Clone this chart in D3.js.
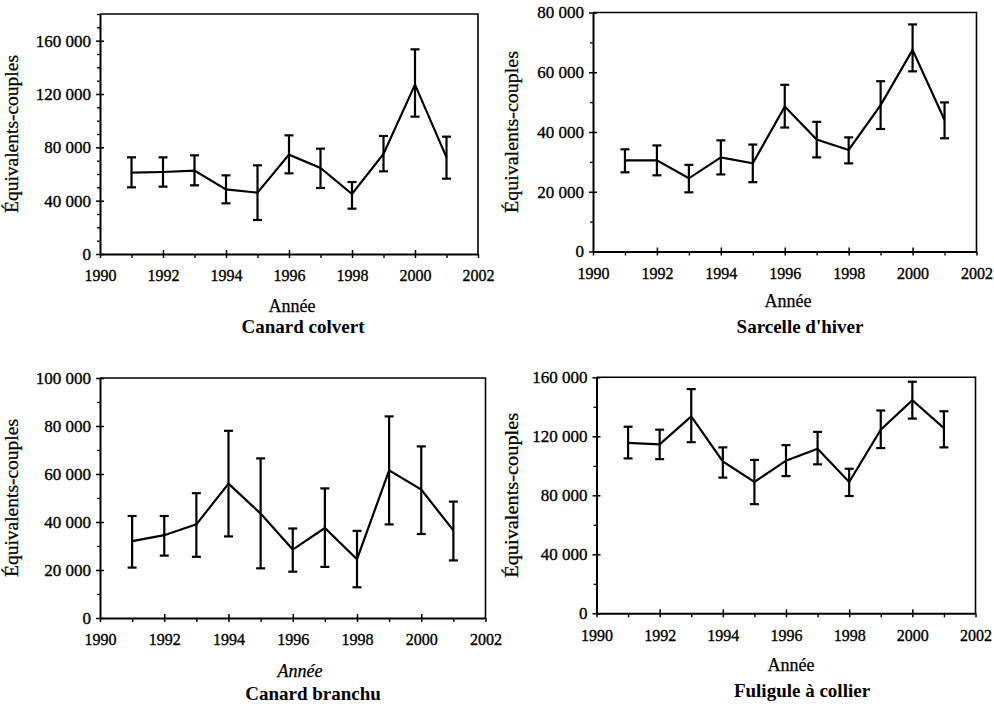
<!DOCTYPE html>
<html><head><meta charset="utf-8">
<script src="https://cdn.jsdelivr.net/npm/d3@7"></script>
<style>
body{margin:0;background:#fff}
svg{display:block}
text{font-family:"Liberation Serif","Tinos","Times New Roman","DejaVu Serif",serif;fill:#000}
</style>
</head><body>
<svg id="c" width="994" height="704"></svg>
<script>
// ---- data ----
const years = [1991,1992,1993,1994,1995,1996,1997,1998,1999,2000,2001];
const xTickLabels = [1990,1992,1994,1996,1998,2000,2002];
const titles = ["Canard colvert","Sarcelle d'hiver","Canard branchu","Fuligule à collier"];
const xTitle = "Année";
const yTitle = "Équivalents-couples";

const colvertMean = [61000,61500,62500,48500,46000,74500,64500,45000,75000,127000,72500];
const colvertLow  = [50000,50500,51500,38000,25500,60500,49500,34000,62000,103000,56500];
const colvertHigh = [72500,72500,74000,59000,66500,89000,79000,54000,88500,153500,88000];

const sarcelleMean = [30500,30500,24500,31500,29500,48500,37500,34000,49000,67500,44000];
const sarcelleLow  = [26500,25500,19800,25800,23200,41500,31500,29500,41000,60300,37900];
const sarcelleHigh = [34200,35500,29000,37200,35800,55800,43400,38200,57000,76000,49900];

const branchuMean = [32000,34500,39000,56000,43500,28500,37500,24500,61500,53500,36500];
const branchuLow  = [21000,26000,25500,34000,20700,19300,21300,12800,39000,35000,24000];
const branchuHigh = [42500,42500,52000,78000,66500,37300,54000,36300,84000,71500,48500];

const fuliguleMean = [115500,114500,133500,103000,89000,103500,111500,89000,124500,144500,125500];
const fuliguleLow  = [105000,104500,116000,92000,74000,93000,101000,79500,112000,132000,112500];
const fuliguleHigh = [126500,124500,152000,112500,104000,114000,123000,98000,137500,157000,137000];

const yTicksColvert  = [0,40000,80000,120000,160000];
const yTicksSarcelle = [0,20000,40000,60000,80000];
const yTicksBranchu  = [0,20000,40000,60000,80000,100000];
const yTicksFuligule = [0,40000,80000,120000,160000];
const yMaxes = [180000,80000,100000,160000];
const yMinorSteps = [10000,10000,10000,20000];

const seriesMean = [colvertMean,sarcelleMean,branchuMean,fuliguleMean];
const seriesLow  = [colvertLow,sarcelleLow,branchuLow,fuliguleLow];
const seriesHigh = [colvertHigh,sarcelleHigh,branchuHigh,fuliguleHigh];
const yTickSets  = [yTicksColvert,yTicksSarcelle,yTicksBranchu,yTicksFuligule];

// ---- layout ----
const layout = [
  {x0:100, x1:478,   y0:14,    y1:254,   yearY:281, yl:12,  ylLen:158, ann:[292,312], ttl:[303,333], italic:false},
  {x0:593, x1:976.5, y0:12.5,  y1:251.5, yearY:279, yl:512, ylLen:162, ann:[788,307], ttl:[800,333], italic:false},
  {x0:100, x1:485.5, y0:378,   y1:618,   yearY:645, yl:12,  ylLen:158, ann:[300,677], ttl:[313,700], italic:true},
  {x0:596.5,x1:975.5,y0:377.3, y1:613.3, yearY:641, yl:512, ylLen:165, ann:[791,671], ttl:[802,697], italic:false}
];

const FONT = '"Liberation Serif","Tinos","Times New Roman","DejaVu Serif",serif';
const svg = d3.select("#c");
const fmt = d => d3.format(",")(d).replace(/,/g, " ");

layout.forEach((L, i) => {
  const g = svg.append("g");
  const x = d3.scaleLinear().domain([1990, 2002]).range([L.x0, L.x1]);
  const y = d3.scaleLinear().domain([0, yMaxes[i]]).range([L.y1, L.y0]);

  // frame (top and right)
  g.append("path")
    .attr("d", `M${L.x0},${L.y0}H${L.x1}V${L.y1}`)
    .attr("fill", "none").attr("stroke", "#000").attr("stroke-width", 1.6);

  // y minor ticks
  const minors = d3.range(0, yMaxes[i] + 1, yMinorSteps[i]).filter(v => !yTickSets[i].includes(v));
  g.append("g").attr("transform", `translate(${L.x0},0)`)
    .call(d3.axisLeft(y).tickValues(minors).tickSize(3).tickFormat("").tickSizeOuter(0))
    .call(a => a.select(".domain").remove())
    .selectAll("line").attr("stroke-width", 1.3);

  // y major ticks (crossing)
  const yAx = g.append("g").attr("transform", `translate(${L.x0},0)`)
    .call(d3.axisLeft(y).tickValues(yTickSets[i]).tickSize(4).tickPadding(5).tickFormat(fmt).tickSizeOuter(0));
  yAx.attr("font-family", null);
  yAx.select(".domain").attr("stroke-width", 2);
  yAx.selectAll("line").attr("stroke-width", 1.5);
  yAx.selectAll("text").style("font-size", "17px").style("font-family", FONT)
    .attr("stroke", "#000").attr("stroke-width", 0.35);
  g.append("g").attr("transform", `translate(${L.x0},0)`)
    .call(d3.axisRight(y).tickValues(yTickSets[i]).tickSize(4).tickFormat("").tickSizeOuter(0))
    .call(a => a.select(".domain").remove())
    .selectAll("line").attr("stroke-width", 1.5);

  // x axis: odd-year minors
  g.append("g").attr("transform", `translate(0,${L.y1})`)
    .call(d3.axisBottom(x).tickValues(years.filter(v => v % 2 === 1)).tickSize(4).tickFormat("").tickSizeOuter(0))
    .call(a => a.select(".domain").remove())
    .selectAll("line").attr("stroke-width", 1.4);
  const xAx = g.append("g").attr("transform", `translate(0,${L.y1})`)
    .call(d3.axisBottom(x).tickValues(xTickLabels).tickSize(4).tickFormat(d3.format("d")).tickSizeOuter(0));
  xAx.attr("font-family", null);
  xAx.select(".domain").attr("stroke-width", 2);
  xAx.selectAll("line").attr("stroke-width", 1.5);
  xAx.selectAll("text").attr("y", L.yearY - L.y1).attr("dy", 0)
    .style("font-size", "16px").style("font-family", FONT)
    .attr("stroke", "#000").attr("stroke-width", 0.35);
  g.append("g").attr("transform", `translate(0,${L.y1})`)
    .call(d3.axisTop(x).tickValues(xTickLabels.filter(v => v > 1990 && v < 2002)).tickSize(4).tickFormat("").tickSizeOuter(0))
    .call(a => a.select(".domain").remove())
    .selectAll("line").attr("stroke-width", 1.5);

  // line
  const line = d3.line().x((d, k) => x(years[k])).y(d => y(d));
  g.append("path").datum(seriesMean[i])
    .attr("d", line).attr("fill", "none").attr("stroke", "#000")
    .attr("stroke-width", 2.2).attr("stroke-linejoin", "miter");

  // error bars
  const cap = 4.5;
  const eb = g.append("g").attr("stroke", "#000").attr("stroke-width", 2.2);
  years.forEach((yr, k) => {
    const cx = x(yr), lo = y(seriesLow[i][k]), hi = y(seriesHigh[i][k]);
    eb.append("line").attr("x1", cx).attr("x2", cx).attr("y1", lo).attr("y2", hi);
    eb.append("line").attr("x1", cx - cap).attr("x2", cx + cap).attr("y1", lo).attr("y2", lo);
    eb.append("line").attr("x1", cx - cap).attr("x2", cx + cap).attr("y1", hi).attr("y2", hi);
  });

  // y title
  const cy = (L.y0 + L.y1) / 2;
  g.append("text")
    .attr("transform", `translate(${L.yl},${cy}) rotate(-90)`)
    .attr("text-anchor", "middle").attr("dy", "0.35em")
    .attr("textLength", L.ylLen).attr("lengthAdjust", "spacingAndGlyphs")
    .style("font-size", "18px").attr("stroke", "#000").attr("stroke-width", 0.25).text(yTitle);

  // x title
  g.append("text").attr("x", L.ann[0]).attr("y", L.ann[1])
    .attr("text-anchor", "middle").style("font-size", "18px")
    .attr("stroke", "#000").attr("stroke-width", 0.25)
    .style("font-style", L.italic ? "italic" : "normal").text(xTitle);

  // panel title
  g.append("text").attr("x", L.ttl[0]).attr("y", L.ttl[1])
    .attr("text-anchor", "middle").style("font-size", "19px").style("font-weight", "bold")
    .text(titles[i]);
});
</script>
</body></html>
